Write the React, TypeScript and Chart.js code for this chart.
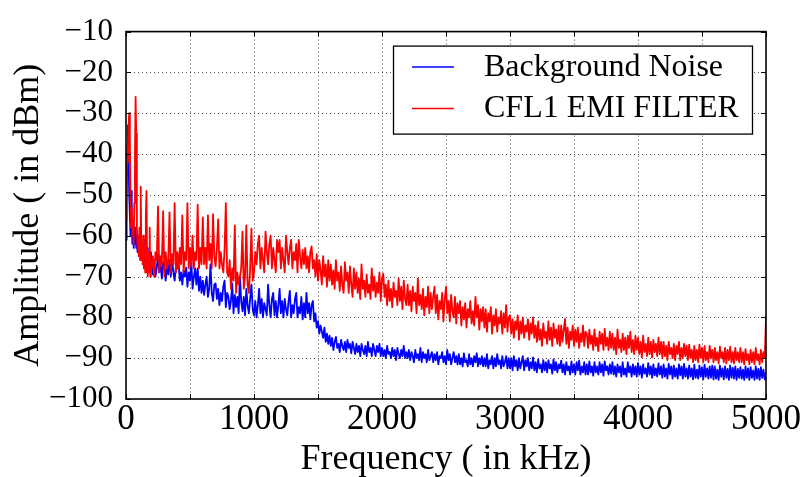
import React, { useEffect, useRef } from 'react';
import { Chart, registerables } from 'chart.js';

Chart.register(...registerables);

// ---- sweep grids (kHz) ----
const LOW_START = 0;
const LOW_STEP = 5;
const MAIN_START = 200;
const MAIN_STEP = 10;

const SERIES_NAMES = ['Background Noise', 'CFL1 EMI FILTER'];
const X_TITLE = 'Frequency ( in kHz)';
const Y_TITLE = 'Amplitude ( in dBm)';
const X_TICKS = [0, 500, 1000, 1500, 2000, 2500, 3000, 3500, 4000, 4500, 5000];
const X_LABELS = ['0', '', '1000', '', '2000', '', '3000', '', '4000', '', '5000'];
const Y_TICKS = [-100, -90, -80, -70, -60, -50, -40, -30, -20, -10];

// Background noise, 0..195 kHz every 5 kHz (dBm)
const blueLow = [
  -61, -52, -40, -33, -41, -50, -55, -60, -49, -58,
  -62, -57, -63, -59, -62, -58, -63, -60, -64, -61,
  -64, -61, -65, -60, -64, -62, -66, -63, -65, -61,
  -66, -64, -67, -63, -68, -65, -69, -66, -68, -64,
];
// Background noise, 200..5000 kHz every 10 kHz (dBm)
const blueMain = [
  -67, -69.5, -66, -70, -68, -64.5, -69, -67, -70.5, -66.5, -68, -71, -67, -69.5, -66, -70, -65.8, -69, -71, -67.5,
  -68, -66, -71, -69, -72, -68.5, -70, -67.8, -72.5, -69, -71, -66, -73, -70, -68, -72, -68, -73.5, -70, -74,
  -71, -74.5, -72, -70, -75, -73, -67, -74, -76, -72, -71.7, -75.5, -73, -77, -74, -76, -72.5, -71, -77.5, -74,
  -75, -78, -76, -71.7, -79, -74.5, -77.5, -75, -79, -70, -76, -78.5, -75, -79.5, -73, -77, -79, -75.5, -72, -78,
  -79.5, -76, -80, -77, -73, -79, -75.5, -80, -76.5, -78, -79.5, -72, -77, -80, -75.5, -74, -79.5, -76, -80, -77,
  -73, -79, -76, -80, -75.5, -78, -79.5, -76, -73.5, -80, -77, -79, -75.5, -74, -80, -77.5, -79, -75, -80.5, -76.5,
  -80, -74, -79, -76.5, -80.5, -77, -76, -81, -79, -82.5, -81, -84, -82, -83.5, -85, -82.5, -86, -84, -86.5, -84.5,
  -87, -85, -88, -86, -84.8, -87.5, -86.5, -88.5, -85.5, -87, -88, -86, -88.5, -85.5, -87.5, -86.5, -88.8, -86, -87.5, -89,
  -86.5, -88.5, -87, -89.5, -86.5, -88, -89, -87, -89.5, -86, -88.5, -87.5, -89.5, -86.5, -88, -89.5, -87, -88.5, -86.5, -89.5,
  -87.5, -89.5, -88, -90, -87, -89, -88.5, -90, -87.5, -89.5, -88, -90.5, -87.5, -89, -90, -88, -89.5, -87, -90, -88.5,
  -90, -88, -90.5, -88.5, -89.5, -91, -88, -90, -89, -90.5, -87.5, -91, -88.5, -90, -89, -91, -88, -90.5, -89.5, -88.5,
  -91, -89, -90.5, -88.5, -91.5, -89.5, -90, -88.5, -91, -89.5, -91.5, -88, -90.5, -89, -91.5, -90, -88.5, -91, -89.5, -91.5,
  -89, -91.5, -90, -92, -88.8, -91, -90.5, -92, -89, -91.5, -90, -92, -89.5, -91, -88.8, -92, -90, -91.5, -89.5, -92,
  -90, -92, -89, -92.5, -90.5, -91.5, -89.5, -92.5, -90, -92, -89, -91.5, -90.5, -92.5, -89.5, -92, -91, -89.5, -92.5, -90,
  -92.5, -90, -93, -89.5, -92, -90.5, -93, -90, -92.5, -91, -89.5, -93, -90.5, -92, -90, -93, -91, -92.5, -89.8, -93,
  -91, -93.5, -90.3, -92.5, -91.5, -93.5, -90.5, -93, -91, -93.5, -90.5, -92.5, -91.5, -93.8, -90.3, -93, -91, -93.5, -91.5, -92.5,
  -90.6, -93.5, -91.5, -94, -91, -93, -92, -94, -90.8, -93.5, -91.5, -94, -91, -93, -90.6, -94, -92, -93.5, -91, -94,
  -91.5, -94, -90.8, -93.5, -92, -94.3, -91, -93.5, -92, -94, -91, -93.5, -91.5, -94.3, -90.8, -93, -92, -94, -91.5, -93.8,
  -91, -94, -92, -94.5, -91.5, -93.5, -92, -94.5, -91, -94, -92.5, -94.5, -91, -93.5, -92, -94.5, -91.5, -94, -92, -94.5,
  -91.2, -94, -92, -94.8, -91.5, -93.8, -92.5, -94.5, -91.2, -94, -92, -94.8, -91.5, -94.2, -92.5, -94.5, -91.3, -94, -92, -94.8,
  -91.5, -94.5, -92.5, -95, -91.4, -94, -92, -95, -91.8, -94.5, -92.5, -95, -91.5, -94.2, -92, -95, -91.4, -94.5, -92.5, -95,
  -91.8, -94.5, -92.5, -95.2, -91.6, -94.8, -92.8, -95, -91.8, -94.5, -92.2, -95.2, -91.6, -94.6, -92.5, -95, -92, -94.8, -91.8, -95.2,
  -92, -95, -92.8, -95.3, -91.8, -94.6, -92.5, -95.2, -92, -94.8, -92.6, -95.3, -91.8, -94.8, -92.4, -95, -92, -95.3, -92.6, -94.8,
  -92.2, -95, -92.8, -95.3, -92, -94.8, -92.5, -95.3, -92.2, -94.8, -93, -95.3, -92, -95, -92.6, -95.3, -92.2, -94.8, -92.8, -95.2,
  -93.5,
];

// CFL1 EMI filter, 0..195 kHz every 5 kHz (dBm)
const redLow = [
  -56, -45, -38, -42, -33, -30, -35, -50, -58, -53,
  -60, -56, -62, -52, -40, -26, -35, -58, -63, -60,
  -65, -58, -66, -48, -64, -62, -67, -60, -68, -63,
  -69, -55, -49, -66, -70, -64, -69, -58, -70, -66,
];
// CFL1 EMI filter, 200..5000 kHz every 10 kHz (dBm)
const redMain = [
  -68, -65, -70, -64, -66, -52.8, -69, -65, -67, -54, -70, -64, -68, -66, -54.3, -69, -64.5, -67, -52, -69,
  -64, -68, -63, -67, -55, -69, -64, -66, -52, -68, -63, -67.5, -60, -68, -64, -66, -52.4, -68, -63, -67,
  -55.5, -67, -63, -68, -55, -66, -62, -68, -54.7, -65, -67.5, -63, -56, -68, -64, -67, -69, -63.5, -52, -69,
  -70, -66, -73, -68, -71, -57.5, -74, -69, -72, -70, -68, -59, -73, -70, -57.5, -72, -74, -68, -58.3, -71,
  -69, -64, -67, -62, -60, -68, -63, -66, -69, -59, -64, -67, -62, -60, -68, -63, -66, -69, -61, -64,
  -61, -68, -63, -66, -69, -60, -64, -67, -63, -61, -68, -64, -66, -62, -69, -61, -65, -68, -63.5, -67,
  -63, -68, -65, -69, -64, -62.6, -68, -66, -70, -64.5, -71, -66, -68.5, -72, -65, -70, -67, -72.5, -66, -71,
  -67, -72, -68.5, -73, -66, -71, -69, -73.5, -67.5, -72, -74, -66.5, -71, -69, -74, -67.5, -72, -75, -68, -73,
  -69, -74, -70.5, -75.5, -67, -73, -71, -75, -69.5, -74, -72, -75.5, -68, -73.5, -70, -75, -71.5, -74, -69, -76,
  -70.5, -69.3, -75, -72, -77, -71, -76, -73, -77.5, -71.5, -75, -73.5, -77, -70.5, -76, -72.5, -78, -71, -75.5, -77,
  -72, -77, -73.5, -78.5, -72.5, -76, -74, -79, -70.5, -77, -74.5, -78, -73, -79.5, -75, -77.5, -72.5, -79, -74, -78,
  -75, -72.5, -79, -74.5, -80.5, -76, -78, -74, -81, -75.5, -72.5, -79, -76, -81, -74.5, -78.5, -80, -75, -81.5, -76.5,
  -79, -76, -82, -77.5, -80.5, -76.5, -82.5, -78, -80, -76, -81.5, -78.5, -82, -75, -80, -77, -83, -78, -81, -77.5,
  -82.5, -78, -83.5, -79, -81, -77.5, -84, -79.5, -82, -78, -83.5, -80, -81.5, -78.5, -84, -79, -82.5, -77, -83.5, -80,
  -79.5, -84, -80.5, -85, -81, -83, -79.5, -85.5, -81, -84, -80, -85, -82, -83.5, -80.5, -85.5, -81.5, -84, -80, -85,
  -82, -86, -81, -85.5, -83, -87, -81.5, -85, -83.5, -86.5, -81, -85.5, -82.5, -87, -81.5, -85, -83, -86.5, -82, -87,
  -82, -86, -83, -80.4, -86.5, -82.5, -87.5, -83.5, -85.5, -82, -87, -83, -86, -82.5, -87.5, -84, -86, -82, -87, -83.5,
  -84, -87.5, -83, -86.5, -84.5, -88, -83, -87, -85, -88.3, -83.5, -86.5, -84, -88, -82.8, -87, -85, -88, -83.5, -87.5,
  -84, -88, -85, -89, -83, -87.5, -85.5, -88.5, -84, -88, -85, -89, -84.5, -87.5, -83.5, -88.5, -85.5, -89, -84.5, -88,
  -85, -89, -86, -89.8, -84.5, -88.5, -86.5, -89.5, -85, -89, -86, -89.8, -85.5, -88.5, -86.5, -89.5, -85, -89, -86, -90,
  -86, -89.5, -87, -90.5, -86, -89, -87.5, -90, -86.5, -90.5, -87, -89, -86, -90.5, -87.5, -90, -86.5, -89.5, -87, -90.5,
  -86.7, -90, -88, -91, -87, -90.5, -88, -91, -86.7, -90, -87.5, -91, -87, -90.5, -88.5, -91, -87, -90, -88, -91,
  -87.5, -90.5, -88.5, -91.3, -87.2, -90, -88.5, -91, -87.5, -91.3, -88, -90.5, -87.2, -91, -88.5, -91.3, -87.5, -90.5, -88.5, -91,
  -87.5, -91, -88.5, -91.5, -87.8, -90.5, -89, -91.5, -88, -91, -88.5, -91.5, -87.5, -90.5, -89, -91.5, -88, -91, -88.5, -90,
  -80,
];

const FONT = '"Liberation Serif", "Times New Roman", serif';
const BLUE = '#0000ff';
const RED = '#ff0000';

function toPoints(low: number[], main: number[]) {
  return [
    ...low.map((v, i) => ({ x: LOW_START + i * LOW_STEP, y: v })),
    ...main.map((v, i) => ({ x: MAIN_START + i * MAIN_STEP, y: v })),
  ];
}

const fmtMinus = (v: number) => (v < 0 ? '\u2212' + Math.abs(v) : String(v));

const decorPlugin = {
  id: 'decor',
  beforeDatasetsDraw(chart: any) {
    const { ctx, chartArea: a, scales } = chart;
    ctx.save();
    ctx.strokeStyle = 'rgba(0,0,0,0.7)';
    ctx.lineWidth = 1;
    ctx.setLineDash([1, 3]);
    X_TICKS.forEach((v) => {
      if (v === X_TICKS[0] || v === X_TICKS[X_TICKS.length - 1]) return;
      const px = Math.round(scales.x.getPixelForValue(v)) + 0.5;
      ctx.beginPath();
      ctx.moveTo(px, a.top);
      ctx.lineTo(px, a.bottom);
      ctx.stroke();
    });
    Y_TICKS.forEach((v) => {
      if (v === Y_TICKS[0] || v === Y_TICKS[Y_TICKS.length - 1]) return;
      const py = Math.round(scales.y.getPixelForValue(v)) + 0.5;
      ctx.beginPath();
      ctx.moveTo(a.left, py);
      ctx.lineTo(a.right, py);
      ctx.stroke();
    });
    ctx.restore();
  },
  afterDatasetsDraw(chart: any) {
    const { ctx, chartArea: a, scales } = chart;
    ctx.save();
    ctx.setLineDash([]);
    ctx.strokeStyle = '#000';
    // inward ticks
    ctx.lineWidth = 1;
    const tl = 5;
    X_TICKS.forEach((v) => {
      const px = Math.round(scales.x.getPixelForValue(v)) + 0.5;
      ctx.beginPath();
      ctx.moveTo(px, a.bottom);
      ctx.lineTo(px, a.bottom - tl);
      ctx.moveTo(px, a.top);
      ctx.lineTo(px, a.top + tl);
      ctx.stroke();
    });
    Y_TICKS.forEach((v) => {
      const py = Math.round(scales.y.getPixelForValue(v)) + 0.5;
      ctx.beginPath();
      ctx.moveTo(a.left, py);
      ctx.lineTo(a.left + tl, py);
      ctx.moveTo(a.right, py);
      ctx.lineTo(a.right - tl, py);
      ctx.stroke();
    });
    // frame
    ctx.lineWidth = 1.6;
    ctx.strokeRect(a.left, a.top, a.right - a.left, a.bottom - a.top);

    // legend box
    const bx = a.left + 267;
    const by = a.top + 14;
    const bw = 359;
    const bh = 88;
    ctx.fillStyle = '#fff';
    ctx.fillRect(bx, by, bw, bh);
    ctx.lineWidth = 1.3;
    ctx.strokeRect(bx + 0.5, by + 0.5, bw, bh);
    const colors = [BLUE, RED];
    const rows = [by + 21.5, by + 63];
    ctx.font = `32px ${FONT}`;
    ctx.textAlign = 'left';
    ctx.textBaseline = 'alphabetic';
    SERIES_NAMES.forEach((name, i) => {
      ctx.strokeStyle = colors[i];
      ctx.lineWidth = 1.5;
      ctx.beginPath();
      ctx.moveTo(bx + 19, rows[i]);
      ctx.lineTo(bx + 61, rows[i]);
      ctx.stroke();
      ctx.fillStyle = '#000';
      ctx.fillText(name, bx + 91, rows[i] + 8.5);
    });

    // axis titles
    ctx.fillStyle = '#000';
    ctx.font = `36px ${FONT}`;
    ctx.textAlign = 'center';
    ctx.textBaseline = 'alphabetic';
    ctx.fillText(X_TITLE, (a.left + a.right) / 2, 469);
    ctx.translate(38, (a.top + a.bottom) / 2);
    ctx.rotate(-Math.PI / 2);
    ctx.fillText(Y_TITLE, 0, 0);
    ctx.restore();
  },
};

export default function App() {
  const ref = useRef<HTMLCanvasElement | null>(null);

  useEffect(() => {
    if (!ref.current) return;
    const chart = new Chart(ref.current, {
      type: 'line',
      data: {
        datasets: [
          {
            label: SERIES_NAMES[0],
            data: toPoints(blueLow, blueMain),
            borderColor: BLUE,
            backgroundColor: BLUE,
            borderWidth: 1.8,
            pointRadius: 0,
            tension: 0,
            borderJoinStyle: 'round',
            order: 2,
          },
          {
            label: SERIES_NAMES[1],
            data: toPoints(redLow, redMain),
            borderColor: RED,
            backgroundColor: RED,
            borderWidth: 1.8,
            pointRadius: 0,
            tension: 0,
            borderJoinStyle: 'round',
            order: 1,
          },
        ],
      },
      options: {
        responsive: false,
        animation: false,
        events: [],
        layout: { padding: { top: 18, right: 37, left: 0, bottom: 0 } },
        plugins: {
          legend: { display: false },
          tooltip: { enabled: false },
          title: { display: false },
        },
        scales: {
          x: {
            type: 'linear',
            min: 0,
            max: 5000,
            afterBuildTicks: (s: any) => {
              s.ticks = X_TICKS.map((v) => ({ value: v }));
            },
            afterFit: (s: any) => {
              s.height = 78;
            },
            ticks: {
              autoSkip: false,
              maxRotation: 0,
              minRotation: 0,
              padding: 0,
              color: '#000',
              font: { family: FONT, size: 35 },
              callback: (v: any) => X_LABELS[X_TICKS.indexOf(Number(v))] ?? '',
            },
            grid: { display: false, drawTicks: false },
            border: { display: false },
          },
          y: {
            type: 'linear',
            min: -100,
            max: -10,
            afterBuildTicks: (s: any) => {
              s.ticks = Y_TICKS.map((v) => ({ value: v }));
            },
            afterFit: (s: any) => {
              s.width = 126;
            },
            ticks: {
              autoSkip: false,
              padding: 13,
              color: '#000',
              font: { family: FONT, size: 31 },
              callback: (v: any) => fmtMinus(Number(v)),
            },
            grid: { display: false, drawTicks: false },
            border: { display: false },
          },
        },
      },
      plugins: [decorPlugin],
    } as any);
    return () => chart.destroy();
  }, []);

  return (
    <div style={{ position: 'fixed', left: 0, top: 0, width: 803, height: 477, background: '#fff' }}>
      <canvas ref={ref} width={803} height={477} style={{ display: 'block' }} />
    </div>
  );
}
